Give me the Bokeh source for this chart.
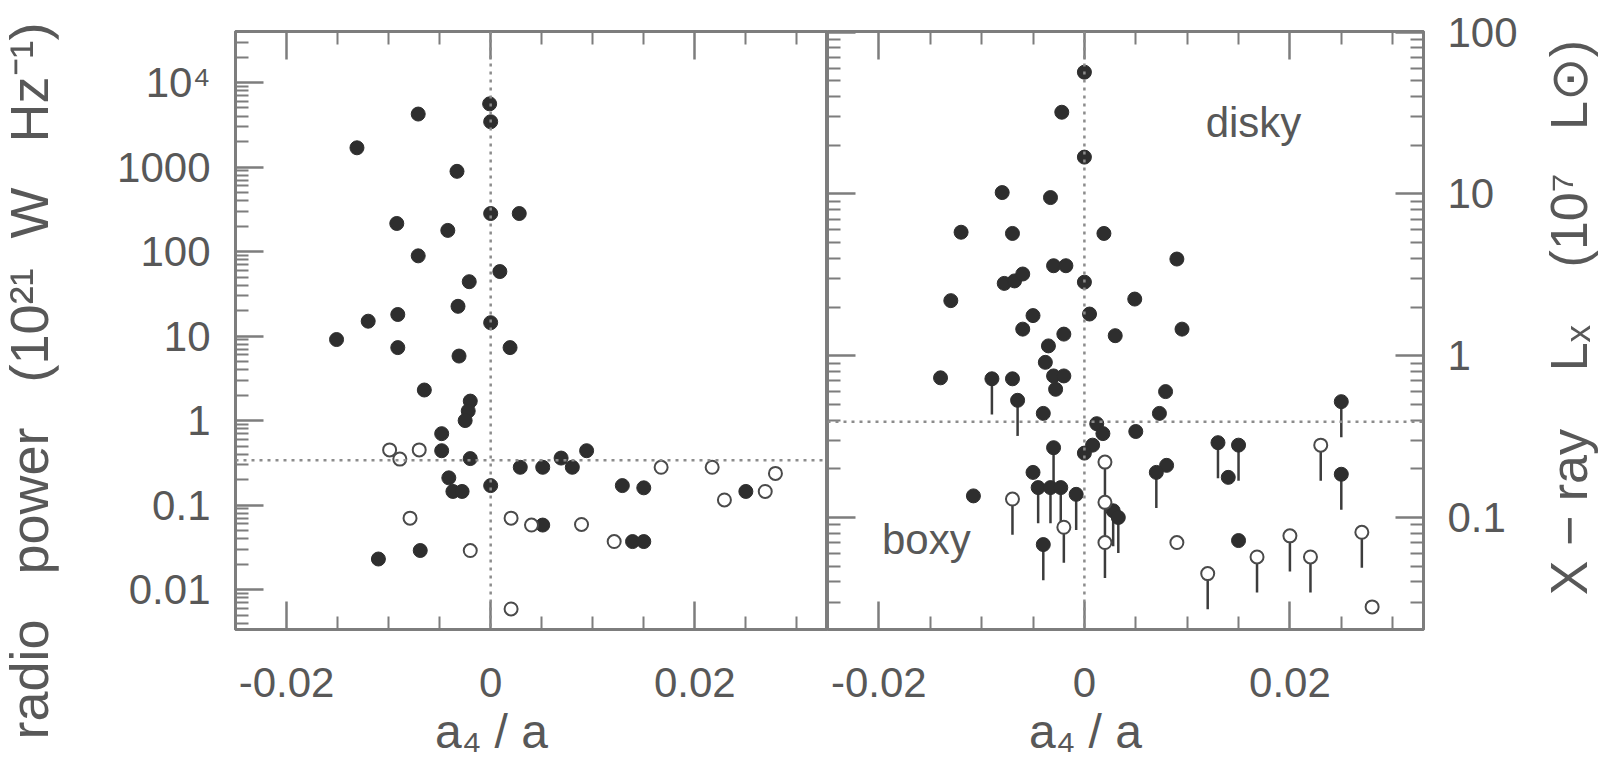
import math
from bokeh.plotting import figure
from bokeh.layouts import row
from bokeh.models import FixedTicker, LinearAxis, LogAxis, Span, Label
from bokeh.embed import file_html
from bokeh.resources import INLINE

# ---------------- data: left panel (radio power, 10^21 W/Hz) ----------------
radio_filled_x = [-0.0071, -0.0001, 0.0, -0.0131, -0.0033, 0.0, 0.0028, -0.0092, -0.0042,
                  -0.0071, 0.0009, -0.0021, -0.0032, -0.0091, -0.012, 0.0, -0.0151, -0.0091,
                  0.0019, -0.0031, -0.0065, -0.002, -0.0022, -0.0025, -0.0048, -0.0048,
                  -0.002, -0.0041, -0.0037, -0.0028, 0.0, 0.0029, 0.0051, 0.0069, 0.008,
                  0.0094, 0.0129, 0.015, 0.025, 0.0051, 0.0139, 0.015, -0.011, -0.0069]
radio_filled_y = [4240, 5600, 3440, 1690, 890, 282, 282, 215, 178,
                  89, 58, 44, 22.5, 18, 15, 14.4, 9.1, 7.3,
                  7.3, 5.8, 2.3, 1.7, 1.3, 1.0, 0.70, 0.44,
                  0.355, 0.21, 0.145, 0.145, 0.17, 0.28, 0.28, 0.36, 0.28,
                  0.44, 0.17, 0.16, 0.145, 0.058, 0.037, 0.037, 0.023, 0.029]
radio_open_x = [-0.0099, -0.0089, -0.007, 0.0167, 0.0217, 0.0229, 0.0269, 0.0279,
                -0.0079, 0.002, 0.004, 0.0089, 0.0121, -0.002, 0.002]
radio_open_y = [0.45, 0.35, 0.45, 0.28, 0.28, 0.115, 0.145, 0.237,
                0.070, 0.070, 0.058, 0.059, 0.037, 0.029, 0.0059]

# ---------------- data: right panel (X-ray Lx, 10^7 Lsun) ----------------
xray_filled_x = [0.0, -0.0022, 0.0, -0.008, -0.0033, -0.012, -0.007, 0.0019, 0.009,
                 -0.003, -0.0018, -0.0078, -0.0068, -0.006, 0.0, -0.013, 0.0049, -0.005,
                 -0.006, 0.0005, -0.002, 0.003, 0.0095, -0.0035, -0.0038, -0.003, -0.002,
                 -0.0028, -0.014, -0.007, 0.0079, -0.004, 0.0073, 0.0012, 0.0018, 0.0008,
                 0.005, 0.0, 0.014, 0.008, -0.005, -0.0108, 0.015]
xray_filled_y = [56.6, 32, 16.9, 10.2, 9.5, 5.8, 5.7, 5.7, 3.96,
                 3.6, 3.6, 2.8, 2.9, 3.2, 2.85, 2.19, 2.24, 1.77,
                 1.46, 1.81, 1.36, 1.33, 1.46, 1.15, 0.91, 0.75, 0.75,
                 0.62, 0.73, 0.72, 0.60, 0.44, 0.44, 0.38, 0.33, 0.28,
                 0.34, 0.25, 0.177, 0.21, 0.19, 0.136, 0.072]
# upper limits (drawn with a line below the symbol)
xray_filled_lim_x = [-0.009, -0.0065, 0.025, -0.003, 0.013, 0.015, 0.025, 0.007,
                     -0.0045, -0.0033, -0.0023, -0.0008, 0.0028, 0.0033, -0.004]
xray_filled_lim_y = [0.72, 0.53, 0.52, 0.27, 0.29, 0.28, 0.185, 0.19,
                     0.153, 0.153, 0.153, 0.139, 0.11, 0.10, 0.068]
xray_open_lim_x = [0.023, 0.002, -0.007, 0.002, -0.002, 0.002, 0.02, 0.027, 0.0168, 0.022, 0.012]
xray_open_lim_y = [0.28, 0.22, 0.13, 0.124, 0.087, 0.07, 0.077, 0.081, 0.057, 0.057, 0.045]
xray_open_x = [0.009, 0.028]
xray_open_y = [0.07, 0.028]

# ---------------- ticks / labels ----------------
x_major = [-0.02, 0, 0.02]
x_major_labels = ["-0.02", "0", "0.02"]
x_minor = [-0.015, -0.01, -0.005, 0.005, 0.01, 0.015, 0.025, 0.03]
radio_ticks = [0.01, 0.1, 1, 10, 100, 1000, 10000]
radio_tick_labels = ["0.01", "0.1", "1", "10", "100", "1000", "10⁴"]
xray_ticks = [0.1, 1, 10, 100]
xray_tick_labels = ["0.1", "1", "10", "100"]
radio_divide = 0.34
xray_divide = 0.39

NB = "\u00a0"
radio_title = ("radio" + NB * 3 + "power" + NB * 3 + "(10²¹" + NB * 2 + "W" + NB * 3
               + "Hz⁻¹)")
xray_title = ("X" + NB + "−" + NB + "ray" + NB * 4 + "Lₓ" + NB * 4 + "(10⁷"
              + NB * 3 + "L⊙)")
x_title = "a₄" + NB + "/" + NB + "a" + NB * 6

x_range = (-0.025, 0.033)
radio_range = (0.00337, 40200)
xray_range = (0.0203, 101)

FONT = "Liberation Sans"
AX = "#7d7d7d"
TXT = "#585858"
PT = "#2e2e2e"


def log_minor(lo, hi):
    out = []
    for n in range(-4, 6):
        for k in range(2, 10):
            v = k * 10 ** n
            if lo < v < hi:
                out.append(v)
    return out


def style_axis(ax, ticks, minor, labels=None, font_size="42px", standoff=25):
    ax.ticker = FixedTicker(ticks=ticks, minor_ticks=minor)
    ax.axis_line_color = AX
    ax.axis_line_width = 3
    ax.major_tick_line_color = AX
    ax.major_tick_line_width = 2.5
    ax.minor_tick_line_color = AX
    ax.minor_tick_line_width = 2
    ax.major_tick_in = 28
    ax.major_tick_out = 0
    ax.minor_tick_in = 13
    ax.minor_tick_out = 0
    if labels is None:
        ax.major_label_overrides = {t: "" for t in ticks}
        ax.major_label_standoff = 0
        ax.major_label_text_font_size = "1px"
    else:
        ax.major_label_overrides = dict(zip(ticks, labels))
        ax.major_label_text_font = FONT
        ax.major_label_text_font_size = font_size
        ax.major_label_text_color = TXT
        ax.major_label_standoff = standoff


def style_title(ax, text, size, standoff):
    ax.axis_label = text
    ax.axis_label_text_font = FONT
    ax.axis_label_text_font_size = size
    ax.axis_label_text_font_style = "normal"
    ax.axis_label_text_color = TXT
    ax.axis_label_standoff = standoff


def base_fig(width, y_range, y_loc, border_left, border_right):
    p = figure(width=width, height=768, x_range=x_range, y_range=y_range,
               y_axis_type="log", y_axis_location=y_loc, x_axis_location="below",
               output_backend="svg", toolbar_location=None,
               min_border_left=border_left, min_border_right=border_right,
               min_border_top=31, min_border_bottom=139)
    p.xgrid.visible = False
    p.ygrid.visible = False
    p.outline_line_color = AX
    p.outline_line_width = 3
    p.background_fill_color = "white"
    p.border_fill_color = "white"
    style_axis(p.xaxis[0], x_major, x_minor, x_major_labels, standoff=38)
    style_title(p.xaxis[0], x_title, "48px", 5)
    top = LinearAxis()
    style_axis(top, x_major, x_minor, None)
    p.add_layout(top, "above")
    return p


def title_strip(width, border_left, top, bottom, text, size):
    """A blank, frameless strip whose left axis carries a vertical title."""
    s = figure(width=width, height=768, x_range=(0, 1), y_range=(0, 1),
               x_axis_location=None, y_axis_location="left",
               output_backend="svg", toolbar_location=None,
               min_border_left=border_left, min_border_right=0)
    if "frame_align" in s.properties():
        s.frame_align = False
        s.min_border_top = top
        s.min_border_bottom = bottom
    else:
        s.min_border_top = 31
        s.min_border_bottom = 139
    s.xgrid.visible = False
    s.ygrid.visible = False
    s.outline_line_color = None
    s.background_fill_color = "white"
    s.border_fill_color = "white"
    ax = s.yaxis[0]
    ax.ticker = FixedTicker(ticks=[])
    ax.axis_line_color = None
    ax.major_tick_line_color = None
    ax.minor_tick_line_color = None
    ax.major_label_standoff = 0
    style_title(ax, text, size, 0)
    return s


# ---------------- left title strip ----------------
p0 = title_strip(58, 56, 20, 27, radio_title, "54px")

# ---------------- left panel ----------------
p1 = base_fig(769, radio_range, "left", 177, 0)
style_axis(p1.yaxis[0], radio_ticks, log_minor(*radio_range), radio_tick_labels, standoff=25)

dot = dict(line_color="#8c8c8c", line_width=2.5, line_dash="3 5")
p1.add_layout(Span(location=0, dimension="height", **dot))
p1.add_layout(Span(location=radio_divide, dimension="width", **dot))

p1.scatter(radio_filled_x, radio_filled_y, marker="circle", size=14,
           fill_color=PT, line_color=PT, line_width=1)
p1.scatter(radio_open_x, radio_open_y, marker="circle", size=13,
           fill_color="white", line_color="#4a4a4a", line_width=2)

# ---------------- right panel ----------------
p2 = base_fig(696, xray_range, "right", 0, 100)
right_ax = p2.yaxis[0]
style_axis(right_ax, xray_ticks, log_minor(*xray_range), xray_tick_labels, standoff=24)

left_ax = LogAxis()
style_axis(left_ax, xray_ticks, log_minor(*xray_range), None)
p2.add_layout(left_ax, "left")

p2.add_layout(Span(location=0, dimension="height", **dot))
p2.add_layout(Span(location=xray_divide, dimension="width", **dot))

lim = 10 ** -0.22
lx = xray_filled_lim_x + xray_open_lim_x
ly = xray_filled_lim_y + xray_open_lim_y
p2.segment(x0=lx, y0=ly, x1=lx, y1=[v * lim for v in ly],
           line_color="#3c3c3c", line_width=2.5)
p2.scatter(xray_filled_x + xray_filled_lim_x, xray_filled_y + xray_filled_lim_y,
           marker="circle", size=14, fill_color=PT, line_color=PT, line_width=1)
p2.scatter(xray_open_lim_x + xray_open_x, xray_open_lim_y + xray_open_y,
           marker="circle", size=13, fill_color="white", line_color="#4a4a4a", line_width=2)

p2.add_layout(Label(x=0.0118, y=27.7, text="disky", text_align="left",
                    text_baseline="middle", text_font=FONT, text_font_size="42px",
                    text_color=TXT))
p2.add_layout(Label(x=-0.0197, y=0.0736, text="boxy", text_align="left",
                    text_baseline="middle", text_font=FONT, text_font_size="42px",
                    text_color=TXT))

# ---------------- right title strip ----------------
p3 = title_strip(81, 74, 5, 139, xray_title, "52px")

layout = row(p0, p1, p2, p3)
open("out.html", "w").write(file_html(layout, INLINE))
